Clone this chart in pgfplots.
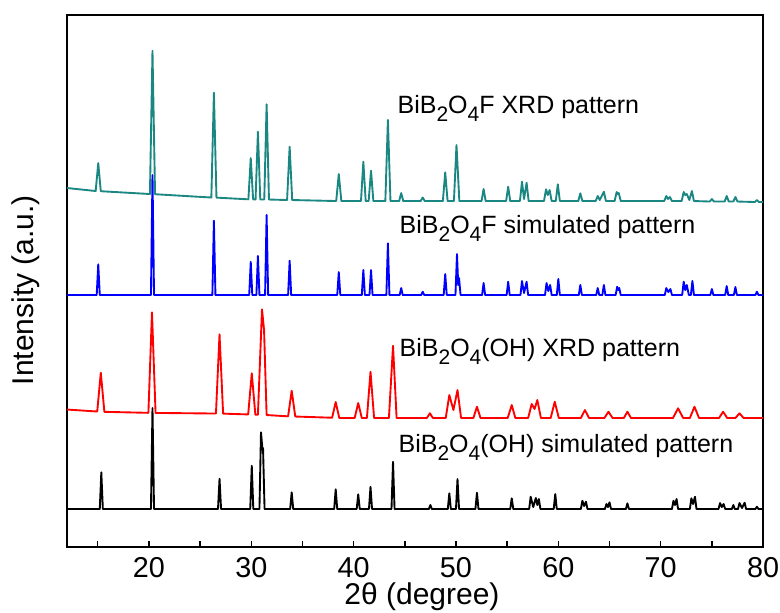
\documentclass[border=0pt]{standalone}
\usepackage{fontspec}
\setmainfont{Liberation Sans}
\usepackage{pgfplots}
\pgfplotsset{compat=1.18}
\definecolor{xrdteal}{RGB}{26,135,130}
\newcommand{\sub}[1]{\raisebox{-0.6ex}{\fontsize{8.4}{9}\selectfont #1}}

\begin{document}
\begin{tikzpicture}
\begin{axis}[
  scale only axis,
  width=278.4pt, height=212.8pt,
  xmin=12, xmax=80,
  ymin=15, ymax=547, y dir=reverse,
  xtick={20,30,40,50,60,70,80},
  minor xtick={15,25,35,45,55,65,75},
  xtick pos=bottom, ytick=\empty,
  tick align=inside,
  major tick length=2.6pt, minor tick length=2.6pt,
  every tick/.style={black, line width=0.6pt},
  axis line style={line width=0.8pt},
  tick label style={font=\fontsize{11.5}{13}\selectfont},
  xticklabel style={inner sep=0pt, yshift=-4pt},
  /pgf/number format/assume math mode=true,
  xlabel={2θ (degree)},
  ylabel={Intensity (a.u.)},
  label style={font=\fontsize{12}{14}\selectfont, inner sep=0pt},
  xlabel style={at={(rel axis cs:0.51,-0.094)}, anchor=center},
  ylabel style={at={(rel axis cs:-0.060,0.483)}, anchor=center},
  clip=false,
  every axis plot/.append style={line width=0.75pt, line join=round},
]
% teal: BiB2O4F XRD
\addplot[xrdteal] coordinates {
(12,188)
(14.8,191)(15.05,163)(15.3,191.2)
(20.1,194)(20.35,50.7)(20.6,194.2)
(26.1,197.5)(26.35,92.7)(26.6,197.6)
(29.72,199.3)(29.95,158)(30.18,199.3)
(30.42,199.4)(30.65,131.7)(30.88,199.4)
(31.27,199.5)(31.5,104.3)(31.73,199.5)
(33.5,200)(33.75,146.7)(34.0,200)
(38.3,201)(38.55,174)(38.8,201)
(40.72,201)(40.95,161.7)(41.18,201)
(41.47,201)(41.7,170.7)(41.93,201)
(43.1,201)(43.35,120)(43.6,201)
(44.45,201)(44.65,193)(44.85,201)
(46.55,201)(46.75,197.5)(46.95,201)
(48.72,201)(48.95,172.3)(49.18,201)
(49.8,201)(50.05,145)(50.33,201)
(52.5,201)(52.7,189)(52.9,201)
(54.9,201)(55.1,186.7)(55.3,201)
(56.25,201)(56.45,181.7)(56.65,199)(56.9,182.7)(57.1,201)
(58.6,201)(58.8,189.3)(58.97,195)(59.15,190)(59.35,201)
(59.75,201)(59.95,184.3)(60.15,201)
(61.95,201)(62.15,193.3)(62.35,201)
(63.65,201)(63.85,196)(64.05,200)(64.45,191.7)(64.65,201)
(65.5,201)(65.7,192)(65.8,194)(65.9,193)(66.1,201)
(70.35,201)(70.55,196)(70.72,199)(70.9,197)(71.1,201)
(72.05,201)(72.25,192)(72.4,195)(72.55,194)(72.8,200)(73.05,191)(73.25,201)
(74.8,201.5)(75.0,199)(75.2,201.5)
(76.25,201.5)(76.45,196)(76.65,201.5)
(77.1,201.5)(77.3,197)(77.5,201.5)
(79.2,202)(79.4,200)(79.6,202)
(80,202)
};
% blue: BiB2O4F simulated
\addplot[blue] coordinates {
(12,295)
(14.9,295)(15.05,264.3)(15.2,295)
(20.2,295)(20.35,175)(20.5,295)
(26.2,295)(26.35,220.7)(26.5,295)
(29.8,295)(29.95,261.7)(30.1,295)
(30.5,295)(30.65,256)(30.8,295)
(31.35,295)(31.5,215)(31.65,295)
(33.6,295)(33.75,260.7)(33.9,295)
(38.4,295)(38.55,272)(38.7,295)
(40.8,295)(40.95,270)(41.1,295)
(41.55,295)(41.7,270)(41.85,295)
(43.2,295)(43.35,243.3)(43.5,295)
(44.5,295)(44.65,288)(44.8,295)
(46.6,295)(46.75,291.7)(46.9,295)
(48.8,295)(48.95,274)(49.1,295)
(49.95,295)(50.1,254)(50.22,285)(50.3,278)(50.45,295)
(52.55,295)(52.7,283)(52.85,295)
(54.95,295)(55.1,281.7)(55.25,295)
(56.3,295)(56.45,281)(56.65,293)(56.9,281.7)(57.05,295)
(58.7,295)(58.85,283)(59.02,291)(59.2,285)(59.35,295)
(59.85,295)(60.0,279)(60.15,295)
(62.0,295)(62.15,285)(62.3,295)
(63.7,295)(63.85,288)(64.0,295)
(64.3,295)(64.45,285)(64.6,295)
(65.6,295)(65.75,286.7)(65.85,290)(65.95,288)(66.1,295)
(70.4,295)(70.55,288)(70.75,292)(70.95,289)(71.1,295)
(72.1,295)(72.25,281.7)(72.4,290)(72.55,285)(72.75,295)
(72.95,295)(73.1,281)(73.25,295)
(74.85,295)(75.0,289)(75.15,295)
(76.3,295)(76.45,286)(76.6,295)
(77.15,295)(77.3,287)(77.45,295)
(79.25,295)(79.4,291.7)(79.55,295)
(80,295)
};
% red: BiB2O4(OH) XRD
\addplot[red] coordinates {
(12,409.5)
(14.95,411.5)(15.3,372.7)(15.65,411.8)
(19.95,412.8)(20.3,312.3)(20.65,412.9)
(26.55,413.5)(26.9,334.3)(27.25,413.6)
(29.7,414.4)(30.05,373.3)(30.4,414.6)
(30.65,414.7)(31.05,309.3)(31.25,330)(31.5,415)
(33.6,416.3)(33.95,390.7)(34.3,416.5)
(37.9,417.7)(38.25,402)(38.6,418)
(40.1,418)(40.45,403)(40.8,418)
(41.3,418)(41.65,371.7)(42.0,418)
(43.45,418)(43.85,345.7)(44.2,418)
(47.15,418)(47.45,413.3)(47.75,418)
(49.0,418)(49.35,395)(49.75,410)(50.15,390)(50.5,418)
(51.7,418)(52.05,406.7)(52.4,418)
(55.05,418)(55.45,405)(55.8,418)
(57.05,418)(57.4,404)(57.68,409)(57.95,400)(58.3,418)
(59.25,418)(59.65,401.7)(60.05,418)
(62.2,418)(62.6,410)(63.0,418)
(64.5,418)(64.9,411.7)(65.3,418)
(66.4,418)(66.75,411.7)(67.1,418)
(71.2,418)(71.7,408.3)(72.2,418)
(72.85,418)(73.3,406.7)(73.75,418)
(75.7,418)(76.1,411.7)(76.5,418)
(77.3,418)(77.7,413.3)(78.1,418)
(80,418)
};
% black: BiB2O4(OH) simulated
\addplot[black] coordinates {
(12,509)
(15.2,509)(15.35,472.3)(15.5,509)
(20.2,509)(20.35,408)(20.5,509)
(26.75,509)(26.9,478.7)(27.05,509)
(29.9,509)(30.05,465.7)(30.2,509)
(30.8,509)(30.95,432.3)(31.1,450)(31.15,448)(31.3,509)
(33.8,509)(33.95,492.3)(34.1,509)
(38.1,509)(38.25,489.3)(38.4,509)
(40.3,509)(40.45,494.3)(40.6,509)
(41.5,509)(41.65,486.7)(41.8,509)
(43.7,509)(43.85,461.7)(44.0,509)
(47.35,509)(47.5,505)(47.65,509)
(49.2,509)(49.35,493.3)(49.5,509)
(50.0,509)(50.15,479)(50.3,509)
(51.9,509)(52.05,492.7)(52.2,509)
(55.3,509)(55.45,498.3)(55.6,509)
(57.15,509)(57.3,496.7)(57.55,507)(57.8,498)(57.95,505)(58.1,499)(58.25,509)
(59.55,509)(59.7,494)(59.85,509)
(62.2,509)(62.35,500.7)(62.52,506)(62.7,501.7)(62.85,509)
(64.55,509)(64.7,504)(64.85,507)(65.0,502.3)(65.15,509)
(66.6,509)(66.75,503.3)(66.9,509)
(71.1,509)(71.25,500.7)(71.4,505)(71.55,499)(71.7,509)
(72.85,509)(73.0,498.3)(73.17,504)(73.35,496.7)(73.5,509)
(75.65,509)(75.8,503)(75.97,507)(76.15,504)(76.3,509)
(76.95,509)(77.1,505)(77.25,509)
(77.55,509)(77.7,503)(77.95,508)(78.2,502.7)(78.35,509)
(79.25,509)(79.4,506.7)(79.55,509)
(80,509)
};
\begingroup
\fontsize{11.5}{13}\selectfont
\node[anchor=west, inner sep=0pt] at (axis cs:44.25,108) {BiB\sub{2}O\sub{4}F XRD pattern};
\node[anchor=west, inner sep=0pt] at (axis cs:44.45,228) {BiB\sub{2}O\sub{4}F simulated pattern};
\node[anchor=west, inner sep=0pt] at (axis cs:44.45,351) {BiB\sub{2}O\sub{4}(OH) XRD pattern};
\node[anchor=west, inner sep=0pt] at (axis cs:44.35,447) {BiB\sub{2}O\sub{4}(OH) simulated pattern};
\endgroup
% keep the reference's outer margins
\path (rel axis cs:-0.0963,-0.124) (rel axis cs:1.0244,1.0282);
\end{axis}
\end{tikzpicture}
\end{document}
